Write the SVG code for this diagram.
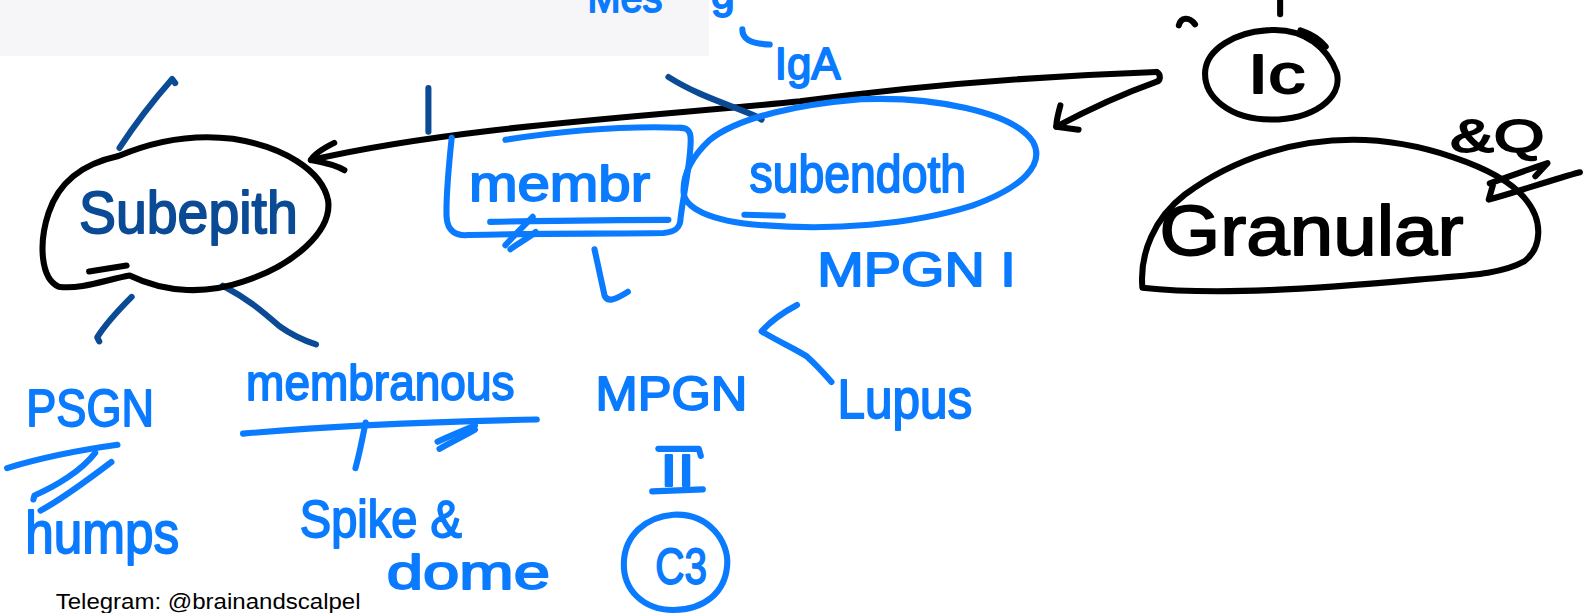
<svg xmlns="http://www.w3.org/2000/svg" width="1588" height="613" viewBox="0 0 1588 613">
<style>
.s{fill:none;stroke-linecap:round;stroke-linejoin:round;stroke-width:6}
.k{stroke:#000}
.b{stroke:#0a7bff}
.d{stroke:#0b4a94}
.t{font-family:"Liberation Sans",Arial,sans-serif;stroke-width:1.8;stroke-linejoin:round}
.tb{fill:#0a7bff;stroke:#0a7bff}
.td{fill:#0b4a94;stroke:#0b4a94}
.tk{fill:#000;stroke:#000}
</style>
<rect x="0" y="0" width="1588" height="613" fill="#fff"/>
<g transform="scale(1.01276 1.0132)">
<rect x="0" y="0" width="700" height="55" fill="#f6f6f8"/>
<g id="connectors">
  <path class="s k" d="M1142,71 C1000,76 880,88 790,100 C640,115 450,125 307,158"/>
  <path class="s k" d="M330,141 C318,147 310,152 307,158 C318,160 330,162 340,168"/>
  <path class="s k" d="M1142,71 C1147,74 1146,80 1141,81 C1110,92 1075,108 1043,125"/>
  <path class="s k" d="M1047,104 C1045,112 1043,118 1043,125 C1050,126 1058,127 1065,128"/>
  <path class="s d" d="M118,146 C135,120 155,95 170,78 L173,82"/>
  <path class="s d" d="M423,87 L423,130"/>
  <path class="s d" d="M660,76 C690,95 720,103 747,115 L752,118"/>
  <path class="s d" d="M130,293 C118,305 104,320 96,333 L98,337"/>
  <path class="s d" d="M220,282 C245,295 260,308 276,322 C290,332 300,336 312,340"/>
  <path class="s b" d="M587,246 L597,292 C600,298 606,297 620,288"/>
  <path class="s b" d="M787,301 C770,310 760,318 752,327 C770,338 785,344 797,352 C808,362 815,370 821,377"/>
  <path class="s b" d="M7,462 C40,452 80,444 116,439"/>
  <path class="s b" d="M94,447 C80,465 55,480 34,489 L33,493"/>
  <path class="s b" d="M110,456 C85,475 62,492 40,504"/>
  <path class="s b" d="M240,428 C330,420 440,416 530,414"/>
  <path class="s b" d="M361,417 C358,432 355,448 351,462"/>
  <path class="s b" d="M469,420 C455,426 442,431 432,436"/>
  <path class="s b" d="M469,424 C457,431 444,437 434,443"/>
  <path class="s k" d="M1471,181 C1490,174 1510,167 1528,161 L1516,174"/>
  <path class="s k" d="M1474,183 L1470,197 C1500,189 1530,178 1560,170"/>
  <path class="s k" d="M1264,1 L1264,14"/>
  <path class="s k" d="M1164,25 C1166,17 1174,16 1180,24"/>
  <path class="s b" d="M733,29 C733,38 740,43 760,44"/>
</g>
<g id="subepith">
  <path class="s k" d="M58,283 C40,275 38,240 48,210 C58,180 80,162 117,154 C150,140 190,132 230,137 C280,145 318,168 324,198 C328,228 290,262 240,278 C205,290 165,290 128,272 C105,276 80,286 58,283 Z"/>
  <path class="s k" d="M88,268 L125,262"/>
  <text class="t td" x="78" y="230" font-size="58" textLength="216" lengthAdjust="spacingAndGlyphs">Subepith</text>
</g>
<g id="membr">
  <path class="s b" d="M446,136 C443,165 440,195 441,215 C442,228 450,233 462,232 C530,230 600,231 655,230 C668,229 672,224 672,215 C676,185 682,160 682,138 C682,128 678,126 670,126 C610,124 550,130 499,138"/>
  <path class="s b" d="M484,219 C540,218 600,217 660,217"/>
  <path class="s b" d="M526,214 C515,225 505,235 499,242"/>
  <path class="s b" d="M529,229 C520,236 510,241 504,246"/>
  <text class="t tb" x="463" y="198" font-size="50" textLength="179" lengthAdjust="spacingAndGlyphs">membr</text>
</g>
<g id="subendoth">
  <path class="s b" d="M701,138 C730,115 790,103 850,98 C920,95 1000,110 1020,140 C1032,162 1010,185 960,203 C900,222 820,228 750,222 C700,218 676,205 675,190 C674,170 686,152 701,138 Z"/>
  <path class="s b" d="M735,212 L773,213"/>
  <text class="t tb" x="740" y="190" font-size="52" textLength="214" lengthAdjust="spacingAndGlyphs">subendoth</text>
</g>
<g id="ic">
  <path class="s k" d="M1250,30 C1290,26 1312,50 1320,72 C1326,98 1295,118 1255,118 C1215,118 1188,96 1190,70 C1192,48 1220,32 1250,30 Z"/>
  <path class="s k" d="M1284,30 C1296,34 1304,40 1309,46" stroke-width="9"/>
  <text class="t tk" x="1232" y="92" font-size="54" textLength="57" lengthAdjust="spacingAndGlyphs">Ic</text>
</g>
<g id="granular">
  <path class="s k" d="M1128,284 C1125,250 1140,215 1170,192 C1220,155 1280,138 1336,138 C1400,138 1480,165 1505,195 C1525,218 1522,245 1505,258 C1480,272 1440,272 1400,276 C1300,285 1200,292 1128,284 Z"/>
  <text class="t tk" x="1145" y="252" font-size="70" textLength="300" lengthAdjust="spacingAndGlyphs">Granular</text>
  <text class="t tk" x="1432" y="150" font-size="46" textLength="93" lengthAdjust="spacingAndGlyphs">&amp;Q</text>
</g>
<g id="iga">
  <text class="t tb" x="580" y="12" font-size="42" textLength="74" lengthAdjust="spacingAndGlyphs">Mes</text>
  <text class="t tb" x="702" y="8" font-size="42">g</text>
  <text class="t tb" x="765" y="78" font-size="44" textLength="65" lengthAdjust="spacingAndGlyphs">IgA</text>
</g>
<g id="mpgn1">
  <text class="t tb" x="807" y="282" font-size="48" textLength="196" lengthAdjust="spacingAndGlyphs">MPGN I</text>
</g>
<g id="lupus">
  <text class="t tb" x="827" y="413" font-size="54" textLength="133" lengthAdjust="spacingAndGlyphs">Lupus</text>
</g>
<g id="mpgn">
  <text class="t tb" x="588" y="405" font-size="48" textLength="150" lengthAdjust="spacingAndGlyphs">MPGN</text>
</g>
<g id="ii">
  <path class="s b" d="M650,443 L690,443 L692,450"/>
  <path class="s b" d="M644,485 L694,483"/>
  <text class="t tb" x="652" y="480" font-size="44" textLength="34" lengthAdjust="spacingAndGlyphs">II</text>
</g>
<g id="c3">
  <path class="s b" d="M665,508 C700,506 720,535 718,558 C716,585 695,602 665,602 C635,602 615,582 616,555 C617,528 638,510 665,508 Z"/>
  <text class="t tb" x="647" y="576" font-size="50" textLength="51" lengthAdjust="spacingAndGlyphs">C3</text>
</g>
<g id="psgn">
  <text class="t tb" x="26" y="420" font-size="52" textLength="126" lengthAdjust="spacingAndGlyphs">PSGN</text>
</g>
<g id="humps">
  <text class="t tb" x="25" y="546" font-size="58" textLength="152" lengthAdjust="spacingAndGlyphs">humps</text>
</g>
<g id="membranous">
  <text class="t tb" x="243" y="395" font-size="50" textLength="265" lengthAdjust="spacingAndGlyphs">membranous</text>
</g>
<g id="spike">
  <text class="t tb" x="296" y="530" font-size="52" textLength="160" lengthAdjust="spacingAndGlyphs">Spike &amp;</text>
</g>
<g id="dome">
  <text class="t tb" x="382" y="581" font-size="48" textLength="161" lengthAdjust="spacingAndGlyphs">dome</text>
</g>
<g id="telegram">
  <text x="55" y="601" font-family="Liberation Sans, Arial, sans-serif" font-size="21" fill="#000" textLength="301" lengthAdjust="spacingAndGlyphs">Telegram: @brainandscalpel</text>
</g>
</g>
</svg>
